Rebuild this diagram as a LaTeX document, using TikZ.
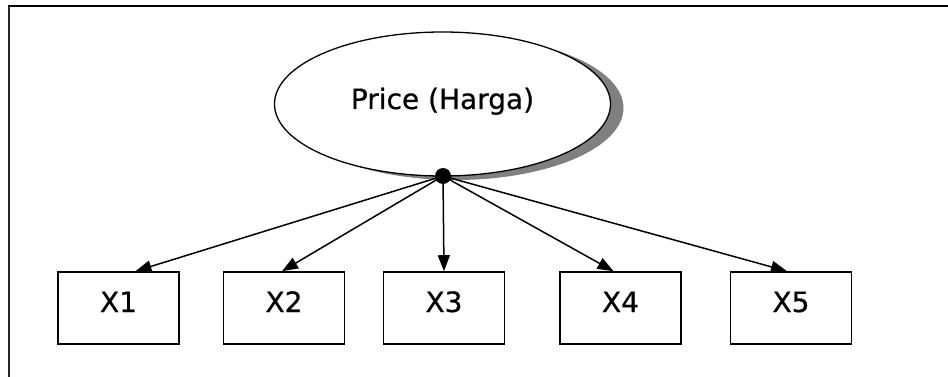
\documentclass[tikz,border=0pt]{standalone}
\usepackage{fontspec}
\setmainfont{DejaVu Sans}
\newfontfamily\lblfont{DejaVu Sans}[FakeBold=0.6]
\usetikzlibrary{shapes.geometric,arrows.meta}
\begin{document}
\begin{tikzpicture}[x=1pt,y=-1pt,
  labelfont/.style={font=\lblfont\fontsize{28}{32}\selectfont},
  indicator/.style={draw=black, line width=1.6pt, minimum width=121pt,
    minimum height=72pt, inner sep=0pt, text height=20pt, text depth=12pt,
    labelfont},
  latent/.style={ellipse, draw=black, fill=white, line width=1.3pt,
    minimum width=336pt, minimum height=144pt, inner sep=0pt},
  loading/.style={line width=1.5pt, -{Triangle[length=16pt,width=12pt]}},
  hubdot/.style={circle, fill=black, inner sep=0pt, minimum size=16pt}
  ]
\useasboundingbox (0,0) rectangle (948,377);

% cell border edges
\draw[line width=2pt] (8,6.5) -- (948,6.5);
\draw[line width=1.6pt, black!85] (9,6) -- (9,377);

% latent construct with drop shadow
\fill[black!50] (455.5,108) ellipse [x radius=168pt, y radius=72pt];
\node[latent] (price) at (442.5,104) {};
\node[labelfont, anchor=base, inner sep=0pt] (pricetext) at (442.5,109) {Price (Harga)};

% indicators
\node[indicator] (x1) at (118.5,308) {X1};
\node[indicator] (x2) at (284,308) {X2};
\node[indicator] (x3) at (444,308) {X3};
\node[indicator] (x4) at (620.5,308) {X4};
\node[indicator] (x5) at (791,308) {X5};

% loadings
\node[hubdot] (hub) at (443,176) {};
\draw[loading] (hub.center) -- ([xshift=17pt]x1.north);
\draw[loading] (hub.center) -- ([xshift=-2pt]x2.north);
\draw[loading] (hub.center) -- (x3.north);
\draw[loading] (hub.center) -- ([xshift=-7pt]x4.north);
\draw[loading] (hub.center) -- ([xshift=-4pt]x5.north);
\end{tikzpicture}
\end{document}
